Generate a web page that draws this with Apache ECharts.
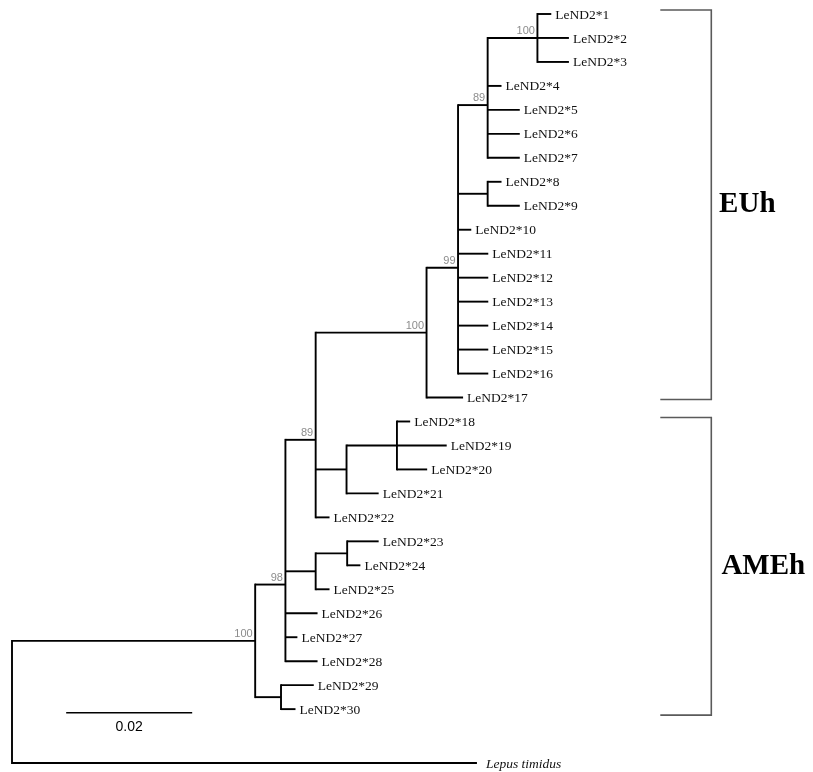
<!DOCTYPE html>
<html>
<head>
<meta charset="utf-8">
<script src="https://cdn.jsdelivr.net/npm/echarts@6/dist/echarts.min.js"></script>
<style>
  html, body { margin: 0; padding: 0; background: #fff; }
  #chart { width: 813px; height: 772px; }
</style>
</head>
<body>
<div id="chart"></div>
<script>
// ---- Tree data (ND2 haplotypes, neighbour-joining style phylogram) ----
// Tips in drawing order, top to bottom; the last tip is the outgroup.
const leafNames = [
  'LeND2*1', 'LeND2*2', 'LeND2*3', 'LeND2*4', 'LeND2*5', 'LeND2*6', 'LeND2*7',
  'LeND2*8', 'LeND2*9', 'LeND2*10', 'LeND2*11', 'LeND2*12', 'LeND2*13', 'LeND2*14',
  'LeND2*15', 'LeND2*16', 'LeND2*17', 'LeND2*18', 'LeND2*19', 'LeND2*20', 'LeND2*21',
  'LeND2*22', 'LeND2*23', 'LeND2*24', 'LeND2*25', 'LeND2*26', 'LeND2*27', 'LeND2*28',
  'LeND2*29', 'LeND2*30', 'Lepus timidus'
];
// Parent node of each tip
const leafParent = [
  'M', 'M', 'M', 'K', 'K', 'K', 'K', 'L', 'L', 'J', 'J', 'J', 'J', 'J', 'J', 'J',
  'G', 'I', 'I', 'I', 'H', 'D', 'F', 'F', 'E', 'B', 'B', 'B', 'C', 'C', 'root'
];
// Terminal branch lengths (substitutions per site)
const leafBranch = [
  0.0022, 0.0050, 0.0050, 0.0022, 0.0051, 0.0051, 0.0051, 0.0022, 0.0051, 0.0021,
  0.0048, 0.0048, 0.0048, 0.0048, 0.0048, 0.0048, 0.0058, 0.0021, 0.0079, 0.0048,
  0.0051, 0.0022, 0.0050, 0.0021, 0.0022, 0.0051, 0.0019, 0.0051, 0.0052, 0.0023,
  0.0738
];
// Internal nodes, their parents, branch lengths and bootstrap support
const nodeNames   = ['root', 'A', 'B', 'C', 'D', 'E', 'F', 'G', 'H', 'I', 'J', 'K', 'L', 'M'];
const nodeParent  = [null, 'root', 'A', 'A', 'B', 'B', 'E', 'D', 'D', 'H', 'G', 'J', 'J', 'K'];
const nodeBranch  = [0, 0.0386, 0.0048, 0.0041, 0.0048, 0.0048, 0.0050, 0.0176, 0.0049, 0.0080, 0.0050, 0.0047, 0.0047, 0.0079];
const nodeSupport = [null, 100, 98, null, 89, null, null, 100, null, null, 99, 89, null, 100];
// Haplogroup brackets (tip numbers, 1-based)
const cladeNames = ['EUh', 'AMEh'];
const cladeFirstLeaf = [1, 18];
const cladeLastLeaf = [17, 30];
// Scale bar
const scaleBarLength = 0.02;
const scaleBarText = '0.02';

// ---- Layout settings ----
const ROW_PX = 23.97;
const OUTGROUP_ROW = 32.25;         // outgroup sits a little apart from the ingroup
const X_MAX = 0.12;
const PX_PER_UNIT = 6300;
const BRACKET_X = 0.111;            // tree units
const BRACKET_ARM = 51;             // px
const BRACKET_PAD_TOP = [4, 4];     // px above first tip
const BRACKET_PAD_BOTTOM = [2, 6];  // px below last tip
const CLADE_LABEL_CENTER_DX = [36, 52];
const SCALE_BAR_X = 0.0086;
const SCALE_BAR_ROW = 30.15;

// ---- Build coordinates from the topology ----
const leafRow = leafNames.map((_, i) => (i < leafNames.length - 1 ? i + 1 : OUTGROUP_ROW));
const nodeIndex = {};
nodeNames.forEach((n, i) => { nodeIndex[n] = i; });

const nodeX = new Array(nodeNames.length);
function depth(i) {
  if (nodeX[i] !== undefined) return nodeX[i];
  const p = nodeParent[i];
  nodeX[i] = p === null ? 0 : depth(nodeIndex[p]) + nodeBranch[i];
  return nodeX[i];
}
nodeNames.forEach((_, i) => depth(i));
const leafX = leafNames.map((_, i) => nodeX[nodeIndex[leafParent[i]]] + leafBranch[i]);

// children lists: entries {kind, idx}
const children = nodeNames.map(() => []);
nodeParent.forEach((p, i) => { if (p !== null) children[nodeIndex[p]].push({ kind: 'node', idx: i }); });
leafParent.forEach((p, i) => { children[nodeIndex[p]].push({ kind: 'leaf', idx: i }); });

const nodeY = new Array(nodeNames.length);
function rowOf(c) { return c.kind === 'leaf' ? leafRow[c.idx] : nodeRow(c.idx); }
function nodeRow(i) {
  if (nodeY[i] !== undefined) return nodeY[i];
  const ys = children[i].map(rowOf);
  nodeY[i] = ys.reduce((a, b) => a + b, 0) / ys.length;
  return nodeY[i];
}
nodeNames.forEach((_, i) => nodeRow(i));

// Segments: [x1, y1, x2, y2, isVertical]
const segments = [];
nodeNames.forEach((n, i) => {
  const ys = children[i].map(rowOf);
  segments.push([nodeX[i], Math.min(...ys), nodeX[i], Math.max(...ys), 1]);
  if (nodeParent[i] !== null) {
    const px = nodeX[nodeIndex[nodeParent[i]]];
    segments.push([px, nodeY[i], nodeX[i], nodeY[i], 0]);
  }
});
leafNames.forEach((n, i) => {
  const px = nodeX[nodeIndex[leafParent[i]]];
  segments.push([px, leafRow[i], leafX[i], leafRow[i], 0]);
});

const leafLabelData = leafNames.map((n, i) => [leafX[i], leafRow[i]]);
const supportData = [];
nodeSupport.forEach((s, i) => { if (s !== null) supportData.push([nodeX[i], nodeY[i], s]); });
const cladeData = cladeNames.map((n, i) => [BRACKET_X, cladeFirstLeaf[i], cladeLastLeaf[i]]);
const scaleData = [[SCALE_BAR_X, SCALE_BAR_ROW, SCALE_BAR_X + scaleBarLength]];

const SERIF = '"Liberation Serif", "Times New Roman", serif';
const SANS = '"Liberation Sans", Arial, sans-serif';

const chart = echarts.init(document.getElementById('chart'), null, { renderer: 'canvas' });
chart.setOption({
  animation: false,
  backgroundColor: '#ffffff',
  grid: { left: 12, top: 14, width: X_MAX * PX_PER_UNIT, height: (OUTGROUP_ROW - 1) * ROW_PX },
  xAxis: { type: 'value', min: 0, max: X_MAX, show: false },
  yAxis: { type: 'value', min: 1, max: OUTGROUP_ROW, inverse: true, show: false },
  series: [
    {
      name: 'branches',
      type: 'custom',
      coordinateSystem: 'cartesian2d',
      dimensions: ['x1', 'y1', 'x2', 'y2', 'v'],
      encode: { x: [0, 2], y: [1, 3] },
      data: segments,
      silent: true,
      clip: false,
      renderItem: function (params, api) {
        const p1 = api.coord([api.value(0), api.value(1)]);
        const p2 = api.coord([api.value(2), api.value(3)]);
        return {
          type: 'line',
          shape: { x1: p1[0], y1: p1[1], x2: p2[0], y2: p2[1] },
          style: { stroke: '#000', lineWidth: 1.9, lineCap: api.value(4) ? 'square' : 'butt' }
        };
      }
    },
    {
      name: 'tips',
      type: 'custom',
      coordinateSystem: 'cartesian2d',
      dimensions: ['x', 'y'],
      encode: { x: 0, y: 1 },
      data: leafLabelData,
      silent: true,
      clip: false,
      renderItem: function (params, api) {
        const p = api.coord([api.value(0), api.value(1)]);
        const isOut = params.dataIndex === leafNames.length - 1;
        return {
          type: 'text',
          x: p[0] + (isOut ? 9 : 4),
          y: p[1] + 1,
          style: {
            text: leafNames[params.dataIndex],
            fontFamily: SERIF,
            fontSize: 13.5,
            fontStyle: isOut ? 'italic' : 'normal',
            fill: '#111',
            align: 'left',
            verticalAlign: 'middle'
          }
        };
      }
    },
    {
      name: 'bootstrap',
      type: 'custom',
      coordinateSystem: 'cartesian2d',
      dimensions: ['x', 'y', 'support'],
      encode: { x: 0, y: 1 },
      data: supportData,
      silent: true,
      clip: false,
      renderItem: function (params, api) {
        const p = api.coord([api.value(0), api.value(1)]);
        return {
          type: 'text',
          x: p[0] - 2.5,
          y: p[1] - 1.5,
          style: {
            text: String(api.value(2)),
            fontFamily: SANS,
            fontSize: 11,
            fill: '#8c8c8c',
            align: 'right',
            verticalAlign: 'bottom'
          }
        };
      }
    },
    {
      name: 'clades',
      type: 'custom',
      coordinateSystem: 'cartesian2d',
      dimensions: ['x', 'first', 'last'],
      encode: { x: 0, y: [1, 2] },
      data: cladeData,
      silent: true,
      clip: false,
      renderItem: function (params, api) {
        const k = params.dataIndex;
        const top = api.coord([api.value(0), api.value(1)]);
        const bot = api.coord([api.value(0), api.value(2)]);
        const x = top[0];
        const y1 = top[1] - BRACKET_PAD_TOP[k];
        const y2 = bot[1] + BRACKET_PAD_BOTTOM[k];
        return {
          type: 'group',
          children: [
            {
              type: 'polyline',
              shape: { points: [[x - BRACKET_ARM, y1], [x, y1], [x, y2], [x - BRACKET_ARM, y2]] },
              style: { stroke: '#5a5a5a', lineWidth: 1.6, fill: null }
            },
            {
              type: 'text',
              x: x + CLADE_LABEL_CENTER_DX[k],
              y: (y1 + y2) / 2,
              style: {
                text: cladeNames[k],
                fontFamily: SERIF,
                fontWeight: 'bold',
                fontSize: 29,
                fill: '#000',
                align: 'center',
                verticalAlign: 'middle'
              }
            }
          ]
        };
      }
    },
    {
      name: 'scale',
      type: 'custom',
      coordinateSystem: 'cartesian2d',
      dimensions: ['x1', 'y', 'x2'],
      encode: { x: [0, 2], y: 1 },
      data: scaleData,
      silent: true,
      clip: false,
      renderItem: function (params, api) {
        const a = api.coord([api.value(0), api.value(1)]);
        const b = api.coord([api.value(2), api.value(1)]);
        return {
          type: 'group',
          children: [
            {
              type: 'line',
              shape: { x1: a[0], y1: a[1], x2: b[0], y2: b[1] },
              style: { stroke: '#000', lineWidth: 1.7 }
            },
            {
              type: 'text',
              x: (a[0] + b[0]) / 2,
              y: a[1] + 14,
              style: {
                text: scaleBarText,
                fontFamily: SANS,
                fontSize: 14,
                fill: '#000',
                align: 'center',
                verticalAlign: 'middle'
              }
            }
          ]
        };
      }
    }
  ]
});
</script>
</body>
</html>
